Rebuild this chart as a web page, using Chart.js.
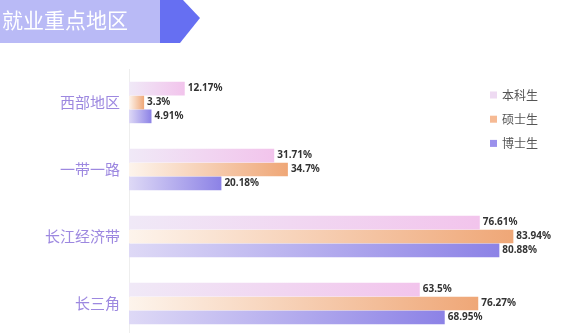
<!DOCTYPE html>
<html>
<head>
<meta charset="utf-8">
<script src="https://cdn.jsdelivr.net/npm/chart.js@4/dist/chart.umd.min.js"></script>
<style>
  html, body { margin: 0; padding: 0; background: #fff; overflow: hidden; }
  #wrap { position: relative; width: 567px; height: 340px; }
  #c { display: block; width: 567px; height: 340px; }
</style>
</head>
<body>
<div id="wrap"><canvas id="c" width="567" height="340"></canvas></div>
<script>
// Regions and employment shares (%) by degree level
const regions = ['西部地区', '一带一路', '长江经济带', '长三角'];
const seriesNames = ['本科生', '硕士生', '博士生'];
const bachelor = [12.17, 31.71, 76.61, 63.5];
const master = [3.3, 34.7, 83.94, 76.27];
const doctor = [4.91, 20.18, 80.88, 68.95];
const titleText = '就业重点地区';

// gradient stops (left -> right) and legend swatch per series
const palette = [
  { from: '#f0e9f7', to: '#f2c4ec', swatch: '#eedaf2' },
  { from: '#fdf4ec', to: '#efa777', swatch: '#f6ba94' },
  { from: '#ded9f6', to: '#8c82e6', swatch: '#9b91ec' }
];

function barGradient(i) {
  return function (context) {
    const chart = context.chart;
    const area = chart.chartArea;
    if (!area || context.type !== 'data') return palette[i].to;
    const xs = chart.scales.x;
    const end = xs.getPixelForValue(context.raw);
    const g = chart.ctx.createLinearGradient(area.left, 0, Math.max(end, area.left + 1), 0);
    g.addColorStop(0, palette[i].from);
    g.addColorStop(1, palette[i].to);
    return g;
  };
}

// banner title at the top-left
const bannerPlugin = {
  id: 'banner',
  beforeDraw(chart) {
    const ctx = chart.ctx;
    ctx.save();
    ctx.fillStyle = '#b9baf6';
    ctx.fillRect(0, 0, 160, 43);
    ctx.fillStyle = '#666ff2';
    ctx.beginPath();
    ctx.moveTo(160, 0);
    ctx.lineTo(183, 0);
    ctx.lineTo(200, 18);
    ctx.lineTo(180, 43);
    ctx.lineTo(160, 43);
    ctx.closePath();
    ctx.fill();
    ctx.fillStyle = '#ffffff';
    ctx.font = '21px "Noto Sans CJK SC"';
    ctx.textBaseline = 'middle';
    ctx.textAlign = 'left';
    ctx.fillText(titleText, 2, 20);
    ctx.restore();
  }
};

// value labels at bar ends
const valueLabels = {
  id: 'valueLabels',
  afterDatasetsDraw(chart) {
    const ctx = chart.ctx;
    ctx.save();
    ctx.font = 'bold 10px "Noto Sans"';
    ctx.fillStyle = '#333333';
    ctx.textBaseline = 'middle';
    ctx.textAlign = 'left';
    chart.data.datasets.forEach((ds, di) => {
      const meta = chart.getDatasetMeta(di);
      meta.data.forEach((bar, idx) => {
        ctx.fillText(ds.data[idx] + '%', bar.x + 3, bar.y);
      });
    });
    ctx.restore();
  }
};

// legend inside the plot, top right
const sideLegend = {
  id: 'sideLegend',
  afterDraw(chart) {
    const ctx = chart.ctx;
    ctx.save();
    ctx.font = '12px "Noto Sans CJK SC"';
    ctx.textBaseline = 'middle';
    ctx.textAlign = 'left';
    chart.data.datasets.forEach((ds, i) => {
      const y = 95 + i * 24.2;
      ctx.fillStyle = palette[i].swatch;
      ctx.fillRect(490, y - 3.5, 7, 7);
      ctx.fillStyle = '#555555';
      ctx.fillText(ds.label, 502, y);
    });
    ctx.restore();
  }
};

new Chart(document.getElementById('c'), {
  type: 'bar',
  data: {
    labels: regions,
    datasets: [
      { label: seriesNames[0], data: bachelor, backgroundColor: barGradient(0) },
      { label: seriesNames[1], data: master, backgroundColor: barGradient(1) },
      { label: seriesNames[2], data: doctor, backgroundColor: barGradient(2) }
    ]
  },
  options: {
    indexAxis: 'y',
    responsive: false,
    animation: false,
    devicePixelRatio: 1,
    layout: { padding: { top: 69, right: 3, bottom: 3, left: 0 } },
    datasets: { bar: { categoryPercentage: 0.62, barPercentage: 0.99 } },
    scales: {
      x: { display: false, min: 0, max: 95 },
      y: {
        afterFit(scale) {
          scale.width = 129;
          scale.paddingTop = 0;
          scale.paddingBottom = 0;
        },
        grid: { display: false, drawTicks: false },
        border: { display: true, color: '#eeeeee', width: 1 },
        ticks: {
          padding: 9,
          color: '#9d88e0',
          font: { family: '"Noto Sans CJK SC"', size: 15 }
        }
      }
    },
    plugins: {
      legend: { display: false },
      tooltip: { enabled: false }
    }
  },
  plugins: [bannerPlugin, valueLabels, sideLegend]
});
</script>
</body>
</html>
